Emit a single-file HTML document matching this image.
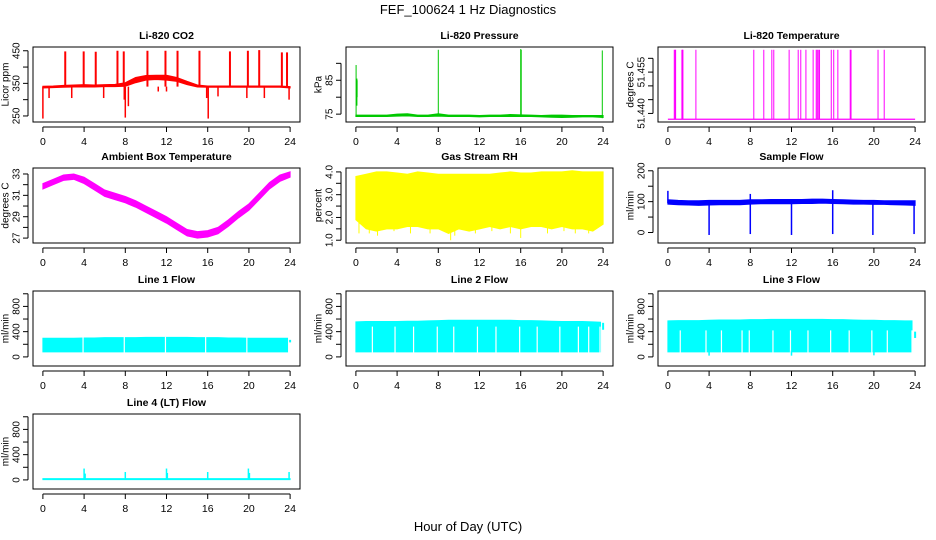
<!DOCTYPE html>
<html><head><meta charset="utf-8"><style>
html,body{margin:0;padding:0;background:#fff;}
svg{display:block;font-family:"Liberation Sans",sans-serif;}
</style></head><body>
<svg id="chart" width="936" height="540" viewBox="0 0 936 540">
<rect x="0" y="0" width="936" height="540" fill="#fff"/>
<text x="468" y="14" text-anchor="middle" font-size="13">FEF_100624  1 Hz Diagnostics</text>
<text x="468" y="531" text-anchor="middle" font-size="13">Hour of Day (UTC)</text>
</svg>
<script>
// ---------- data ----------
const xTicks = [0,4,8,12,16,20,24];
const hours = [0,1,2,3,4,5,6,7,8,9,10,11,12,13,14,15,16,17,18,19,20,21,22,23,24];

const co2Low  = [336,337,338,339,339,339,340,340,341,352,360,362,360,356,346,339,338,338,338,338,338,338,338,338,336];
const co2High = [341,342,344,345,346,345,346,347,352,368,374,375,375,368,356,345,342,342,342,342,342,342,342,342,340];
const co2SpikeH = [2.17,3.96,5.13,7.24,7.85,10.15,11.9,13.07,15.2,18.16,19.9,21.0,23.2,23.7];
const co2SpikeV = [448,448,447,450,448,450,450,450,450,448,450,452,445,445];
const co2DipH = [0.0,0.6,2.8,5.9,7.9,8.0,8.3,11.2,12.0,15.9,16.05,17.0,19.8,21.5,23.9];
const co2DipV = [242,305,305,305,300,245,280,325,325,305,242,310,305,305,300];

const presLow  = [74.3,74.3,74.3,74.3,74.4,74.5,74.3,74.3,74.4,74.3,74.3,74.3,74.2,74.3,74.3,74.3,74.3,74.3,74.2,74.1,74.0,74.1,74.2,74.2,74.0];
const presHigh = [74.7,74.7,74.7,74.7,75.0,75.1,74.7,74.7,75.1,74.7,74.7,74.7,74.6,74.7,74.7,74.9,74.8,74.7,74.6,74.7,74.7,74.6,74.6,74.6,74.6];
const presSpikeH = [0.02,0.1,0.12,8.0,16.0,16.05,23.92];
const presSpikeLo = [74.5,77.5,80,74.5,74.5,74.5,73.8];
const presSpikeHi = [89.5,85.5,85,94,94.2,94,93.8];

const tempBase = 51.4379;
const tempSpikeH = [0.62,0.7,0.75,1.36,1.42,1.46,2.72,8.34,9.31,10.09,10.28,11.77,12.65,12.9,13.4,14.1,14.4,14.5,14.6,14.72,15.86,16.1,16.5,17.7,17.78,20.4,21.0];
const tempSpikeV = 51.4631;

const ambLow  = [31.6,32.0,32.4,32.5,32.1,31.5,30.9,30.6,30.3,29.9,29.4,28.9,28.4,27.8,27.2,27.0,27.1,27.4,28.1,28.9,29.6,30.6,31.6,32.3,32.7];
const ambHigh = [32.1,32.5,32.9,33.0,32.7,32.1,31.5,31.2,30.9,30.5,30.0,29.5,29.0,28.4,27.8,27.6,27.7,28.0,28.7,29.5,30.2,31.2,32.2,32.9,33.2];

const rhLow  = [1.9,1.5,1.4,1.5,1.5,1.6,1.6,1.5,1.5,1.3,1.5,1.4,1.5,1.6,1.5,1.6,1.5,1.6,1.6,1.5,1.6,1.5,1.5,1.4,1.7];
const rhHigh = [3.8,3.9,4.0,4.0,3.95,3.9,4.0,3.95,3.9,3.9,3.9,3.9,3.9,3.9,3.95,4.0,3.95,3.95,4.0,4.0,4.0,4.05,4.0,4.0,4.0];
const rhDipH = [0.3,1.3,2.1,3.7,5.3,7.2,9.2,9.6,11.6,13.2,15.0,16.0,18.6,20.2,21.3,22.6];
const rhDipV = [1.3,1.3,1.2,1.4,1.3,1.3,1.0,1.2,1.3,1.4,1.3,1.1,1.3,1.4,1.3,1.3];

const sfLow  = [92,90,89,88,89,90,90,90,92,93,93,93,93,94,94,95,94,93,92,92,91,91,90,89,88];
const sfHigh = [106,104,103,103,104,104,104,104,106,106,107,107,107,107,108,108,107,106,105,104,104,103,103,103,103];
const sfDipH = [4.0,8.0,12.0,16.0,19.9,23.9];
const sfDipV = [-8,-5,-8,-5,-8,-5];
const sfSpikeH = [0.0,8.0,16.0];
const sfSpikeV = [135,125,137];

const l1Low  = [80,80,80,80,80,80,80,80,80,80,80,80,80,80,80,80,80,80,80,80,80,80,80,80,80];
const l1High = [295,295,295,295,300,300,305,305,305,305,310,310,310,310,310,305,305,305,300,300,295,295,295,295,295];
const l1Gaps = [3.9,7.9,11.9,15.8,19.8];

const l2Low  = [80,80,80,80,80,80,80,80,80,80,80,80,80,80,80,80,80,80,80,80,80,80,80,80,80];
const l2High = [555,560,560,560,560,565,565,570,575,580,580,580,580,580,580,580,575,575,570,565,560,560,560,555,550];
const l2Gaps = [1.6,3.8,5.6,7.9,9.5,11.8,13.6,15.9,17.6,19.8,21.6,22.6,23.7];

const l3Low  = [80,80,80,80,80,80,80,80,80,80,80,80,80,80,80,80,80,80,80,80,80,80,80,80,80];
const l3High = [570,575,575,575,580,585,585,585,590,590,595,595,595,595,595,595,590,590,585,580,580,575,575,570,570];
const l3Gaps = [1.2,3.7,5.2,7.2,7.9,10.2,11.9,13.6,15.8,17.6,19.8,21.3,23.7];
const l3DipH = [4.0,12.0,20.0];
const l3DipV = [20,20,25];

const l4Low  = [5,5,5,5,5,5,5,5,5,5,5,5,5,5,5,5,5,5,5,5,5,5,5,5,5];
const l4High = [20,20,20,20,20,20,20,20,20,20,20,20,20,20,20,20,20,20,20,20,20,20,20,20,20];
const l4SpikeH = [4.0,4.1,8.0,12.0,12.08,16.0,19.95,20.05,23.9];
const l4SpikeV = [180,100,125,180,110,125,180,110,125];

const flowTicks = [0,200,400,600,800,1000];
const flowLabels = [0,400,800];

// ---------- helpers ----------
const NS = "http://www.w3.org/2000/svg";
const svg = document.getElementById("chart");
function el(tag, attrs, parent){
  const e = document.createElementNS(NS, tag);
  for (const k in attrs) e.setAttribute(k, attrs[k]);
  (parent||svg).appendChild(e);
  return e;
}
const colLeft = [33, 346, 658];
const rowTop = [47, 168, 291, 414];
const W = 267, H = 75;

function panel(c, r, title, ylab, ymin, ymax, ticks, labels, slug, fmt){
  const L = colLeft[c], T = rowTop[r];
  const g = el("g", {});
  
  
  const ex = 24*0.04, ey = (ymax-ymin)*0.04;
  const sx = h => L + (h - (-ex)) / (24 + 2*ex) * W;
  const sy = v => T + H - (v - (ymin - ey)) / (ymax - ymin + 2*ey) * H;
  const plot = el("g", {}, g);
  
  
  const box = el("rect", {x:L, y:T, width:W, height:H, fill:"none", stroke:"#000", "stroke-width":1}, g);
  
  
  const tt = el("text", {x:L+W/2, y:T-8, "text-anchor":"middle", "font-size":10.5, "font-weight":"bold"}, g);
  tt.textContent = title;
  
  
  const xa = el("g", {}, g);
  
  
  el("line", {x1:sx(0), x2:sx(24), y1:T+H+5, y2:T+H+5, stroke:"#000"}, xa);
  xTicks.forEach(h => {
    el("line", {x1:sx(h), x2:sx(h), y1:T+H+5, y2:T+H+10, stroke:"#000"}, xa);
    const t = el("text", {x:sx(h), y:T+H+23, "text-anchor":"middle", "font-size":10.5}, xa);
    t.textContent = h;
    
    
  });
  const ya = el("g", {}, g);
  
  
  el("line", {x1:L-5, x2:L-5, y1:sy(ticks[0]), y2:sy(ticks[ticks.length-1]), stroke:"#000"}, ya);
  ticks.forEach(v => el("line", {x1:L-10, x2:L-5, y1:sy(v), y2:sy(v), stroke:"#000"}, ya));
  labels.forEach(v => {
    const t = el("text", {x:0, y:0, "text-anchor":"middle", "font-size":10, "dominant-baseline":"central", transform:`translate(${L-16},${sy(v)}) rotate(-90)`}, ya);
    t.textContent = fmt ? v.toFixed(fmt) : v;
    
    
  });
  const yl = el("text", {x:0, y:0, "text-anchor":"middle", "font-size":10, "dominant-baseline":"central", transform:`translate(${L-27},${T+H/2}) rotate(-90)`}, g);
  yl.textContent = ylab;
  
  
  return {sx, sy, plot};
}

function band(p, lo, hi, color, endH){
  const hs = hours.map(h => (endH !== undefined && h === 24) ? endH : h);
  let pts = hs.map((h,i)=>`${p.sx(h)},${p.sy(hi[i])}`);
  for (let i = hs.length-1; i >= 0; i--) pts.push(`${p.sx(hs[i])},${p.sy(lo[i])}`);
  const b = el("polygon", {points:pts.join(" "), fill:color, stroke:color, "stroke-width":1}, p.plot);
  
  
}
function vlines(p, hs, los, his, color, w){
  hs.forEach((h,i) => {
    const lo = Array.isArray(los) ? los[i] : los;
    const hi = Array.isArray(his) ? his[i] : his;
    const l = el("line", {x1:p.sx(h), x2:p.sx(h), y1:p.sy(lo), y2:p.sy(hi), stroke:color, "stroke-width":w||1.5}, p.plot);
    
    
  });
}

// CO2
let p = panel(0,0,"Li-820 CO2","Licor ppm",240,453,[250,300,350,400,450],[250,350,450],"li820-co2");
band(p, co2Low, co2High, "#ff0000");
vlines(p, co2SpikeH, 340, co2SpikeV, "#ff0000", 2);
vlines(p, co2DipH, co2DipV, 340, "#ff0000", 1.5);

// Pressure
p = panel(1,0,"Li-820 Pressure","kPa",73.5,94,[75,80,85,90],[75,85],"li820-pressure");
band(p, presLow, presHigh, "#00c800");
vlines(p, presSpikeH, presSpikeLo, presSpikeHi, "#00c800", 1);

// Temperature
p = panel(2,0,"Li-820 Temperature","degrees C",51.4379,51.4631,[51.440,51.445,51.450,51.455,51.460],[51.440,51.455],"li820-temperature",3);
const tl = el("line", {x1:p.sx(0), x2:p.sx(24), y1:p.sy(tempBase), y2:p.sy(tempBase), stroke:"#ff00ff", "stroke-width":1.2}, p.plot);


vlines(p, tempSpikeH, tempBase, tempSpikeV, "#ff00ff", 1);

// Ambient
p = panel(0,1,"Ambient Box Temperature","degrees C",26.8,33.3,[27,28,29,30,31,32,33],[27,29,31,33],"ambient-box-temperature");
band(p, ambLow, ambHigh, "#ff00ff");

// RH
p = panel(1,1,"Gas Stream RH","percent",1.0,4.05,[1.0,1.5,2.0,2.5,3.0,3.5,4.0],[1.0,2.0,3.0,4.0],"gas-stream-rh",1);
band(p, rhLow, rhHigh, "#ffff00");
vlines(p, rhDipH, rhDipV, 2.5, "#ffff00", 1);

// Sample flow
p = panel(2,1,"Sample Flow","ml/min",-25,200,[0,50,100,150,200],[0,100,200],"sample-flow");
band(p, sfLow, sfHigh, "#0000ff");
vlines(p, sfDipH, sfDipV, 95, "#0000ff", 1.5);
vlines(p, sfSpikeH, 95, sfSpikeV, "#0000ff", 1.5);

// Line 1
p = panel(0,2,"Line 1 Flow","ml/min",-100,1000,flowTicks,flowLabels,"line-1-flow");
band(p, l1Low, l1High, "#00ffff", 23.75);
vlines(p, l1Gaps, 70, 320, "#ffffff", 1.2);
vlines(p, [24], 230, 270, "#00ffff", 2);

// Line 2
p = panel(1,2,"Line 2 Flow","ml/min",-100,1000,flowTicks,flowLabels,"line-2-flow");
band(p, l2Low, l2High, "#00ffff", 23.75);
vlines(p, l2Gaps, 70, 480, "#ffffff", 1.2);
vlines(p, [24], 430, 540, "#00ffff", 2);

// Line 3
p = panel(2,2,"Line 3 Flow","ml/min",-100,1000,flowTicks,flowLabels,"line-3-flow");
band(p, l3Low, l3High, "#00ffff", 23.7);
vlines(p, l3Gaps, 70, 420, "#ffffff", 1.2);
vlines(p, l3DipH, l3DipV, 100, "#00ffff", 1.5);
vlines(p, [24], 300, 400, "#00ffff", 2);

// Line 4
p = panel(0,3,"Line 4 (LT) Flow","ml/min",-100,1000,flowTicks,flowLabels,"line-4-flow");
band(p, l4Low, l4High, "#00ffff");
vlines(p, l4SpikeH, 10, l4SpikeV, "#00ffff", 1.5);
</script>
</body></html>
